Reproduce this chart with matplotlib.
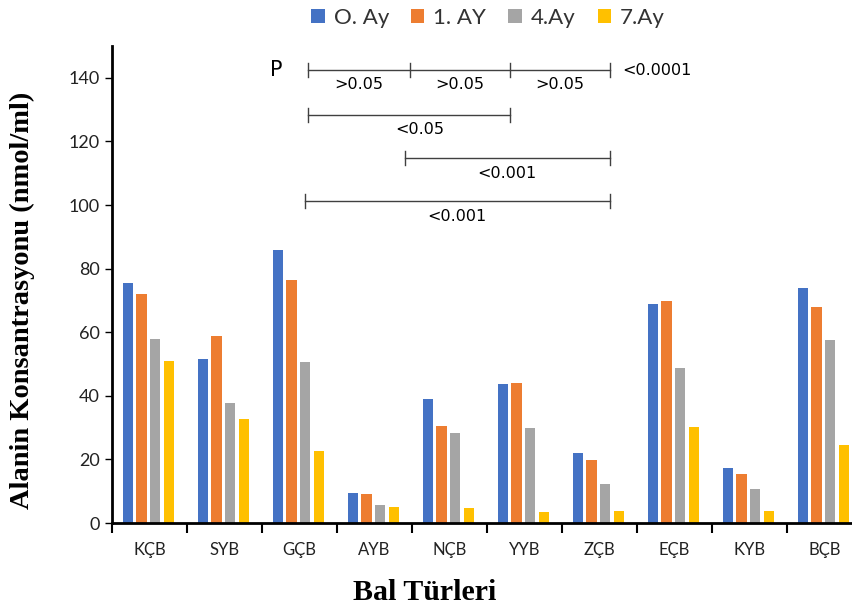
import matplotlib
matplotlib.use("Agg")
import matplotlib.pyplot as plt
import numpy as np

categories = ["KÇB", "SYB", "GÇB", "AYB", "NÇB", "YYB", "ZÇB", "EÇB", "KYB", "BÇB"]
series_names = ["O. Ay", "1. AY", "4.Ay", "7.Ay"]
ay0 = [75.4, 51.6, 85.8, 9.5, 39.1, 43.7, 22.1, 68.8, 17.2, 73.8]
ay1 = [72.0, 58.9, 76.3, 9.2, 30.6, 43.9, 19.9, 69.9, 15.3, 68.0]
ay4 = [57.8, 37.6, 50.6, 5.6, 28.2, 30.0, 12.3, 48.8, 10.8, 57.4]
ay7 = [51.0, 32.7, 22.6, 5.0, 4.7, 3.5, 3.8, 30.3, 3.8, 24.4]
colors = ["#4472C4", "#ED7D31", "#A5A5A5", "#FFC000"]

fig = plt.figure(figsize=(8.53, 6.15), dpi=100)
ax = fig.add_axes([112 / 853, 1 - 523 / 615, 750 / 853, (523 - 46) / 615])

x = np.arange(len(categories))
width = 0.14
step = 0.182
for i, (vals, name, c) in enumerate(zip([ay0, ay1, ay4, ay7], series_names, colors)):
    ax.bar(x + (i - 1.5) * step - 0.015, vals, width, color=c, label=name)

ax.set_xlim(-0.5, 9.5)
ax.set_ylim(0, 150)
ax.set_yticks(np.arange(0, 141, 20))
ax.tick_params(axis="y", labelsize=13, length=5, width=1, pad=4)
for lab in ax.get_yticklabels():
    lab.set_family("Lato")
    lab.set_color("#222222")

ax.set_xticks(x)
ax.set_xticklabels(categories, family="Lato", fontsize=12, color="#222222")
ax.tick_params(axis="x", length=0, pad=14)
ax.set_xticks(np.arange(-0.5, 10, 1), minor=True)
ax.tick_params(axis="x", which="minor", length=7, width=1.5, direction="out")

for s in ["top", "right"]:
    ax.spines[s].set_visible(False)
ax.spines["left"].set_linewidth(2)
ax.spines["bottom"].set_linewidth(2)

# significance brackets
lc = "#404040"
def bracket(x0, x1, y, ticks=None):
    ax.plot([x0, x1], [y, y], color=lc, lw=1, clip_on=False)
    for t in (ticks if ticks is not None else [x0, x1]):
        ax.plot([t, t], [y - 2.2, y + 2.2], color=lc, lw=1, clip_on=False)

afs = 11.5
bracket(2.113, 6.14, 142.5, ticks=[2.113, 3.473, 4.807, 6.14])
for xc in [(2.113 + 3.473) / 2, (3.473 + 4.807) / 2, (4.807 + 6.14) / 2]:
    ax.text(xc, 138.0, ">0.05", ha="center", va="center", fontsize=afs)
ax.text(6.30, 142.3, "<0.0001", ha="left", va="center", fontsize=afs)
ax.text(1.69, 142.5, "P", ha="center", va="center", fontsize=15)

bracket(2.113, 4.807, 128.3)
ax.text(3.607, 123.8, "<0.05", ha="center", va="center", fontsize=afs)
bracket(3.407, 6.14, 114.8)
ax.text(4.767, 109.8, "<0.001", ha="center", va="center", fontsize=afs)
bracket(2.073, 6.14, 101.3)
ax.text(4.10, 96.5, "<0.001", ha="center", va="center", fontsize=afs)

fig.text(22 / 853, 1 - 300 / 615, "Alanin Konsantrasyonu (nmol/ml)", rotation=90,
         ha="center", va="center", family="Liberation Serif", fontweight="bold", fontsize=20.5)
fig.text(425 / 853, 1 - 593 / 615, "Bal Türleri", ha="center", va="center",
         family="Liberation Serif", fontweight="bold", fontsize=21.5)

leg = fig.legend(loc="center", bbox_to_anchor=(488 / 853, 1 - 18 / 615), ncol=4,
                 frameon=False, prop={"family": "Lato", "size": 16},
                 handlelength=0.6, handleheight=0.6, handletextpad=0.4, columnspacing=1.0)
for t in leg.get_texts():
    t.set_color("#333333")

fig.savefig("out.png", dpi=100)
